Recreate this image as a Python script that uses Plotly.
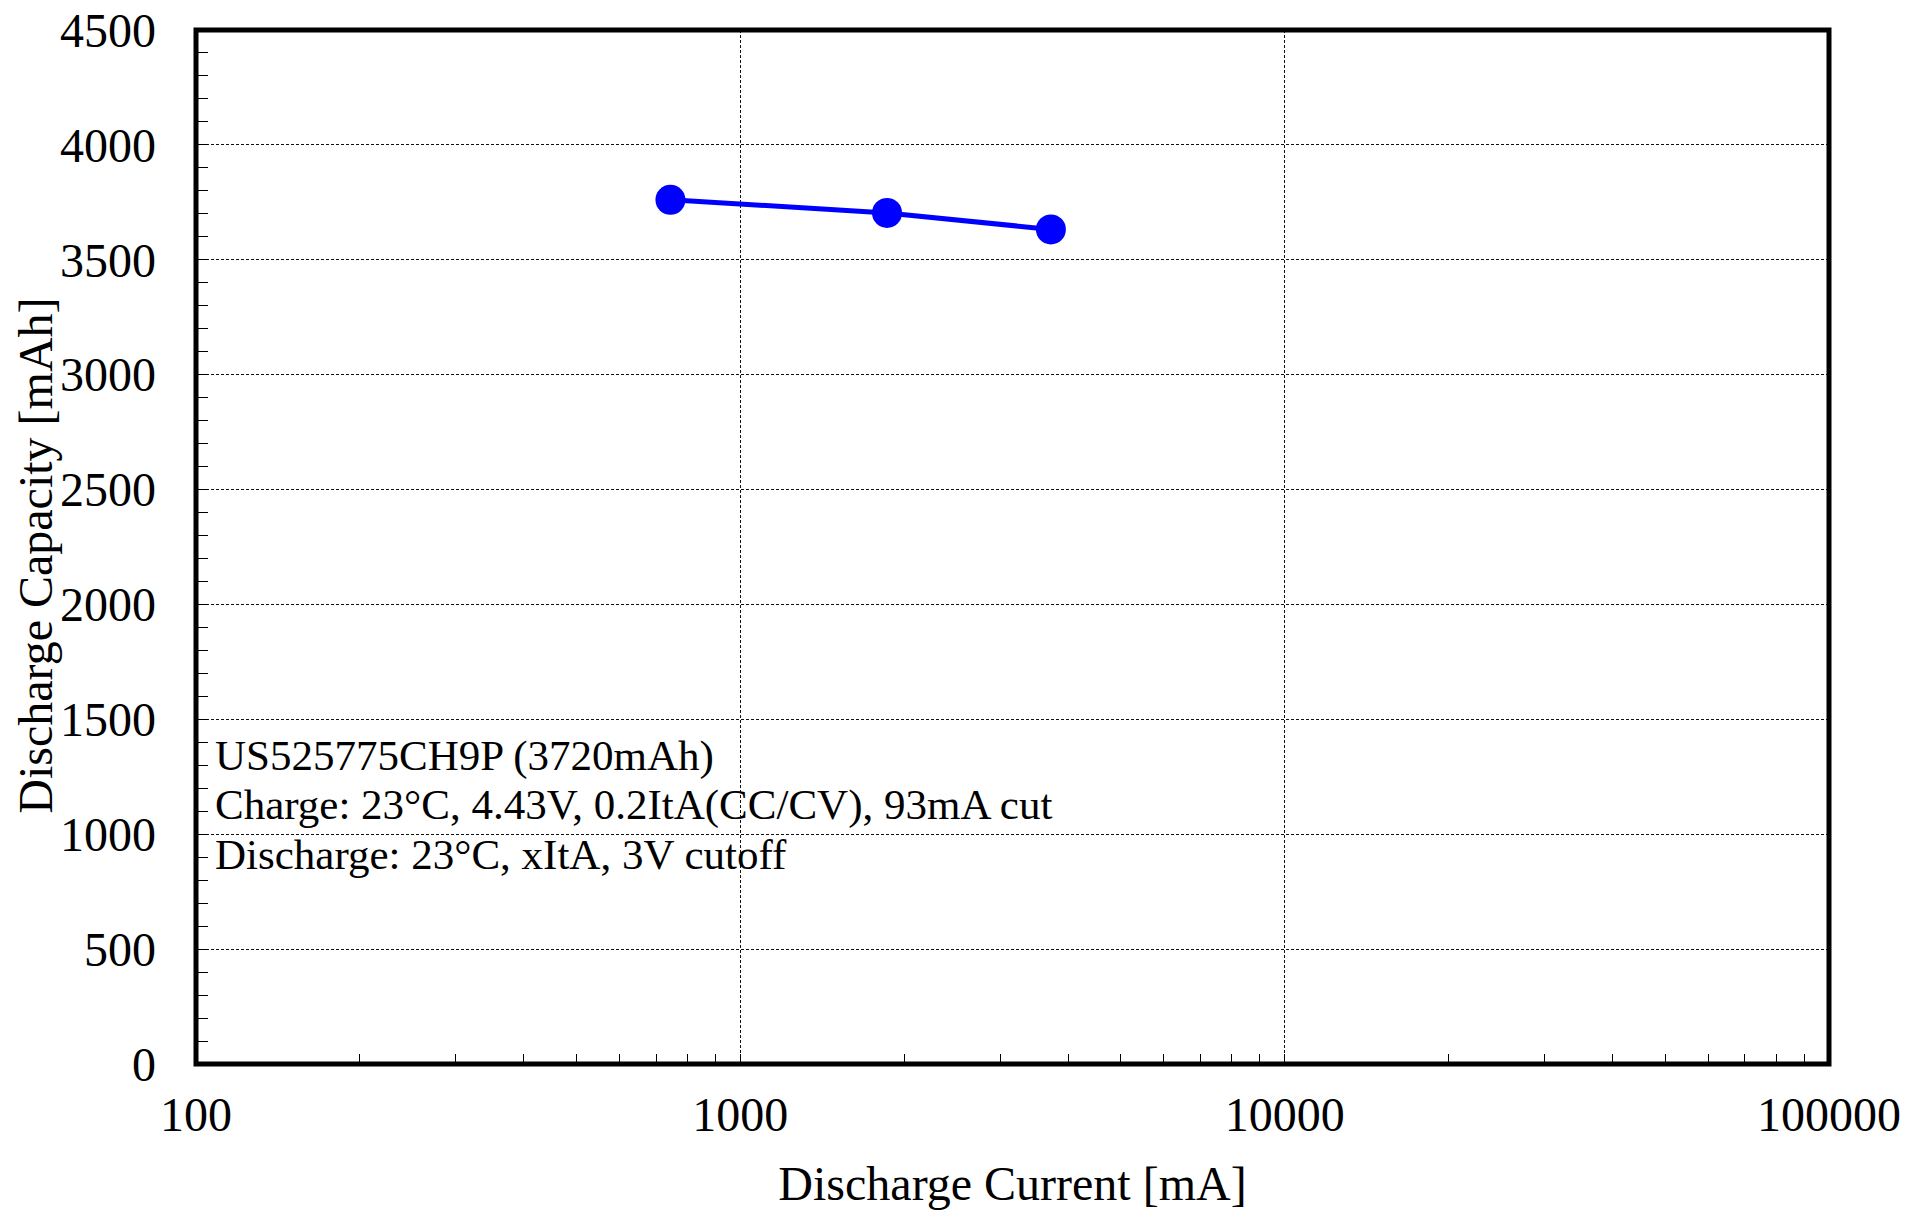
import plotly.graph_objects as go

# Data
current_mA = [744, 1860, 3720]
capacity_mAh = [3761, 3704, 3632]

x_tick_vals = [100, 1000, 10000, 100000]
x_tick_text = ["100", "1000", "10000", "100000"]
y_tick_vals = [0, 500, 1000, 1500, 2000, 2500, 3000, 3500, 4000, 4500]

note_lines = [
    "US525775CH9P (3720mAh)",
    "Charge: 23°C, 4.43V, 0.2ItA(CC/CV), 93mA cut",
    "Discharge: 23°C, xItA, 3V cutoff",
]
note_y = [0.298, 0.2505, 0.2025]

FONT = "Liberation Serif, Times New Roman, serif"

fig = go.Figure()
fig.add_trace(go.Scatter(
    x=current_mA, y=capacity_mAh, mode="lines+markers",
    line=dict(color="#0000FF", width=5),
    marker=dict(color="#0000FF", size=30),
    showlegend=False,
))

for txt, yy in zip(note_lines, note_y):
    fig.add_annotation(
        text=txt, xref="paper", yref="paper", x=0.0105, y=yy,
        xanchor="left", yanchor="middle", showarrow=False,
        font=dict(family=FONT, size=43, color="black"),
    )

# y-axis title placed as a rotated annotation (sits close to tick labels)
fig.add_annotation(
    text="Discharge Capacity [mAh]", xref="paper", yref="paper",
    x=-0.0983, y=0.492, xanchor="center", yanchor="middle",
    textangle=-90, showarrow=False,
    font=dict(family=FONT, size=48, color="black"),
)

# plot frame centred on the plot-area edges
fig.add_shape(
    type="rect", xref="paper", yref="paper", x0=0, y0=0, x1=1, y1=1,
    line=dict(color="black", width=5), layer="above",
)

fig.update_xaxes(
    type="log", range=[2, 5],
    tickvals=x_tick_vals, ticktext=x_tick_text,
    ticks="", ticklabelstandoff=18,
    tickfont=dict(family=FONT, size=48, color="black"),
    showline=False,
    showgrid=True, gridcolor="#111111", gridwidth=1, griddash="3px,2px",
    minor=dict(ticks="inside", ticklen=10, tickwidth=1, tickcolor="black",
               dtick="D1", showgrid=False),
    zeroline=False,
    title=dict(text="Discharge Current [mA]", standoff=27,
               font=dict(family=FONT, size=48, color="black")),
)
fig.update_yaxes(
    range=[0, 4500],
    tickvals=y_tick_vals,
    ticks="", ticklabelstandoff=39,
    tickfont=dict(family=FONT, size=48, color="black"),
    showline=False,
    showgrid=True, gridcolor="#111111", gridwidth=1, griddash="3px,2px",
    minor=dict(ticks="inside", ticklen=12, tickwidth=1, tickcolor="black",
               dtick=100, showgrid=False),
    zeroline=False,
)

fig.update_layout(
    width=1906, height=1210,
    margin=dict(l=196, r=77, t=30, b=146, autoexpand=False),
    paper_bgcolor="white", plot_bgcolor="white",
    font=dict(family=FONT, color="black"),
)

fig.write_html(
    "out.html",
    config={"displayModeBar": False},
    post_script="document.body.style.margin='0';document.body.style.overflow='hidden';",
)
